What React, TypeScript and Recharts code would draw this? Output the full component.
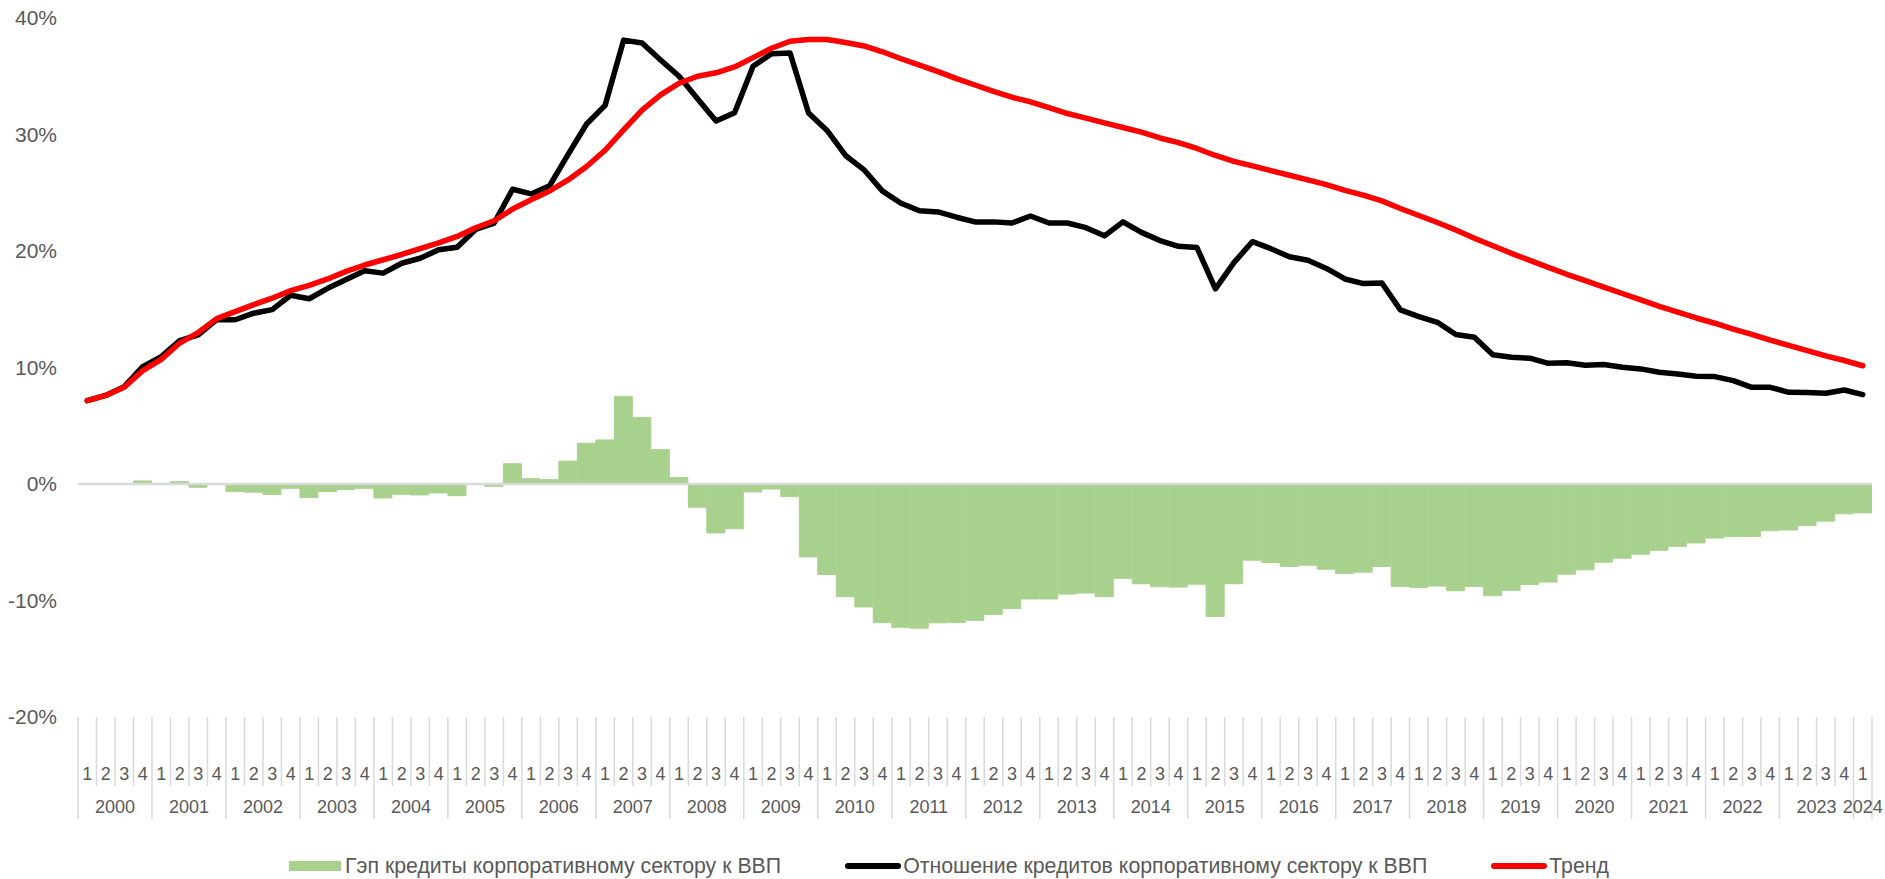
import React from "react";
import { ComposedChart, Bar, Line, XAxis, YAxis, ReferenceLine, Legend } from "recharts";

// quarterly periods 2000Q1 - 2024Q1
const years = [2000, 2001, 2002, 2003, 2004, 2005, 2006, 2007, 2008, 2009, 2010, 2011, 2012,
  2013, 2014, 2015, 2016, 2017, 2018, 2019, 2020, 2021, 2022, 2023, 2024];
const quarters = ["1", "2", "3", "4"];
const lastYearQuarters = ["1"];

const yTicks = [-20, -10, 0, 10, 20, 30, 40];

// Гэп, % ВВП
const gap = [
  0, 0, 0, 0.26, 0.05, 0.2, -0.28, -0.05, -0.65, -0.7,
  -0.9, -0.37, -1.17, -0.65, -0.48, -0.37, -1.2, -0.88, -0.94, -0.77,
  -1.0, -0.05, -0.2, 1.74, 0.45, 0.37, 1.96, 3.5, 3.78, 7.5,
  5.7, 2.95, 0.55, -2.0, -4.2, -3.84, -0.68, -0.43, -1.08, -6.26,
  -7.77, -9.67, -10.55, -11.9, -12.3, -12.38, -11.92, -11.9, -11.7, -11.2,
  -10.7, -9.87, -9.87, -9.45, -9.36, -9.67, -8.1, -8.56, -8.82, -8.85,
  -8.6, -11.38, -8.56, -6.54, -6.74, -7.08, -6.97, -7.31, -7.68, -7.57,
  -7.08, -8.79, -8.88, -8.76, -9.16, -8.79, -9.59, -9.13, -8.62, -8.42,
  -7.74, -7.37, -6.71, -6.37, -6.03, -5.69, -5.35, -5.06, -4.64, -4.52,
  -4.5, -4.01, -3.95, -3.56, -3.19, -2.56, -2.48,
];

// Отношение кредитов корпоративному сектору к ВВП, %
const ratio = [
  7.15, 7.6, 8.36, 10.08, 10.94, 12.3, 12.8, 14.1, 14.1, 14.66,
  14.97, 16.2, 15.9, 16.8, 17.55, 18.3, 18.1, 18.95, 19.38, 20.1,
  20.33, 21.85, 22.4, 25.3, 24.9, 25.6, 28.3, 30.9, 32.5, 38.1,
  37.85, 36.4, 35.0, 33.07, 31.15, 31.87, 35.85, 36.94, 37.0, 31.84,
  30.35, 28.2, 26.97, 25.14, 24.1, 23.45, 23.35, 22.9, 22.5, 22.5,
  22.4, 23.0, 22.4, 22.4, 22.0, 21.3, 22.5, 21.6, 20.9, 20.4,
  20.3, 16.75, 19.0, 20.8, 20.2, 19.5, 19.2, 18.5, 17.6, 17.2,
  17.25, 14.95, 14.37, 13.88, 12.83, 12.6, 11.1, 10.88, 10.8, 10.36,
  10.4, 10.19, 10.25, 10.02, 9.88, 9.59, 9.45, 9.25, 9.22, 8.87,
  8.3, 8.3, 7.87, 7.85, 7.79, 8.07, 7.67,
];

// Тренд, %
const trend = [
  7.15, 7.6, 8.3, 9.73, 10.7, 12.1, 13.0, 14.2, 14.8, 15.4,
  15.95, 16.6, 17.05, 17.6, 18.25, 18.8, 19.25, 19.7, 20.2, 20.7,
  21.25, 22.0, 22.6, 23.6, 24.4, 25.15, 26.1, 27.25, 28.65, 30.4,
  32.1, 33.4, 34.4, 35.0, 35.3, 35.8, 36.6, 37.4, 38.0, 38.15,
  38.15, 37.9, 37.6, 37.1, 36.5, 35.95, 35.4, 34.8, 34.25, 33.7,
  33.2, 32.8, 32.3, 31.8, 31.4, 31.0, 30.6, 30.2, 29.7, 29.3,
  28.8, 28.2, 27.7, 27.3, 26.9, 26.5, 26.1, 25.7, 25.2, 24.8,
  24.3, 23.65, 23.05, 22.45, 21.8, 21.1, 20.45, 19.8, 19.2, 18.6,
  18.0, 17.45, 16.9, 16.35, 15.8, 15.25, 14.75, 14.25, 13.8, 13.3,
  12.85, 12.35, 11.9, 11.45, 11.0, 10.6, 10.15,
];

const seriesNames = {
  gap: "Гэп кредиты корпоративному сектору к ВВП",
  ratio: "Отношение кредитов корпоративному сектору к ВВП",
  trend: "Тренд",
};

const quartersOf = (y: number) => (y === 2024 ? lastYearQuarters : quarters);

const periods = years.flatMap((y) => quartersOf(y).map((q) => ({ year: y, q })));

const data = periods.map((p, i) => ({
  key: `${p.year}Q${p.q}`,
  year: p.year,
  q: p.q,
  gap: gap[i],
  ratio: ratio[i],
  trend: trend[i],
}));

const W = 1885;
const H = 879;
const Y_AXIS_W = 78;
const RIGHT = 13;
const TOP = 18;
const PLOT_BOTTOM = 717;
const BAND = (W - Y_AXIS_W - RIGHT) / data.length;
const TEXT = "#595959";
const GRID = "#D9D9D9";
const GREEN = "#A9D18E";
const FONT = "'Liberation Sans', Arial, sans-serif";

function CategoryTick(props: any) {
  const { x, index } = props;
  const row = data[index];
  if (!row) return null;
  const left = x - BAND / 2;
  const n = quartersOf(row.year).length;
  let yearX: number | null = null;
  if (n === 4 && row.q === "2") yearX = x + BAND / 2;
  if (n === 1) yearX = x;
  const last = index === data.length - 1;
  return (
    <g>
      <line x1={left} x2={left} y1={PLOT_BOTTOM} y2={row.q === "1" ? 819 : 786} stroke={GRID} strokeWidth={1.5} />
      {last && (
        <line x1={x + BAND / 2} x2={x + BAND / 2} y1={PLOT_BOTTOM} y2={819} stroke={GRID} strokeWidth={1.5} />
      )}
      <text x={x} y={774} textAnchor="middle" dominantBaseline="central" fill={TEXT} fontSize={18} fontFamily={FONT}>
        {row.q}
      </text>
      {yearX !== null && (
        <text x={yearX} y={807} textAnchor="middle" dominantBaseline="central" fill={TEXT} fontSize={18} fontFamily={FONT}>
          {row.year}
        </text>
      )}
    </g>
  );
}

function LegendBox() {
  const item = (icon: React.ReactNode, label: string, gapPx: number) => (
    <div style={{ display: "flex", alignItems: "center", gap: gapPx }}>
      {icon}
      <span>{label}</span>
    </div>
  );
  return (
    <div
      style={{
        display: "flex",
        justifyContent: "center",
        alignItems: "center",
        gap: 64,
        height: 42,
        paddingTop: 16,
        paddingLeft: 26,
        boxSizing: "border-box",
        color: TEXT,
        fontSize: 21.3,
        fontFamily: FONT,
        lineHeight: "26px",
      }}
    >
      {item(<div style={{ width: 52, height: 10, background: GREEN }} />, seriesNames.gap, 4)}
      {item(<div style={{ width: 56, height: 6, borderRadius: 3, background: "#000" }} />, seriesNames.ratio, 2)}
      {item(<div style={{ width: 56, height: 6, borderRadius: 3, background: "#FF0000" }} />, seriesNames.trend, 2)}
    </div>
  );
}

export default function App() {
  return (
    <div style={{ position: "absolute", left: 0, top: 0, width: W, height: H, background: "#fff" }}>
      <ComposedChart
        width={W}
        height={H}
        data={data}
        margin={{ top: TOP, right: RIGHT, bottom: 0, left: 0 }}
        barCategoryGap={0}
        barGap={0}
        style={{ fontFamily: FONT }}
      >
        <XAxis
          dataKey="key"
          interval={0}
          height={120}
          axisLine={false}
          tickLine={false}
          tick={(p: any) => <CategoryTick {...p} />}
        />
        <YAxis
          width={Y_AXIS_W}
          domain={[-20, 40]}
          ticks={yTicks}
          allowDataOverflow
          axisLine={false}
          tickLine={false}
          tickSize={0}
          tickMargin={21}
          tick={{ fill: TEXT, fontSize: 21, fontFamily: FONT }}
          tickFormatter={(v) => `${v}%`}
        />
        <Bar
          dataKey="gap"
          name={seriesNames.gap}
          fill={GREEN}
          stroke={GREEN}
          strokeWidth={1}
          isAnimationActive={false}
        />
        <ReferenceLine y={0} stroke={GRID} strokeWidth={2.5} />
        <Line
          type="linear"
          dataKey="ratio"
          name={seriesNames.ratio}
          stroke="#000000"
          strokeWidth={5.5}
          dot={false}
          strokeLinejoin="round"
          strokeLinecap="round"
          isAnimationActive={false}
        />
        <Line
          type="linear"
          dataKey="trend"
          name={seriesNames.trend}
          stroke="#FF0000"
          strokeWidth={5.5}
          dot={false}
          strokeLinejoin="round"
          strokeLinecap="round"
          isAnimationActive={false}
        />
        <Legend verticalAlign="bottom" height={42} content={() => <LegendBox />} />
      </ComposedChart>
    </div>
  );
}
